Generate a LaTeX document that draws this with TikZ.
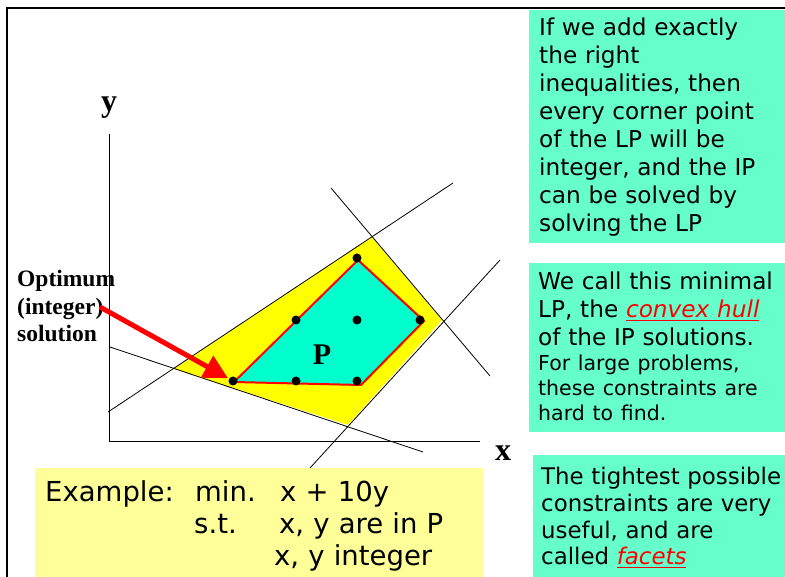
\documentclass[tikz,border=0pt]{standalone}
\usepackage{fontspec}
\setmainfont{Liberation Serif}
\newfontfamily\verd{DejaVu Sans}
\usepackage{xcolor}
\usetikzlibrary{arrows.meta,positioning}
\definecolor{notegreen}{RGB}{102,255,204}
\definecolor{hullcyan}{RGB}{0,255,204}
\definecolor{lpyellow}{RGB}{255,255,0}
\definecolor{examplebg}{RGB}{255,255,153}
\newcommand{\keyterm}[1]{\textcolor{red}{\underline{\textit{#1}}}}

\begin{document}
\begin{tikzpicture}[x=1pt,y=-1pt]
  \tikzset{
    cstr/.style={black,line width=0.8pt},
    lpt/.style={circle,fill=black,inner sep=0pt,minimum size=9pt},
    notetext/.style={anchor=base west,align=left,text width=250pt,inner sep=0pt,
      font=\verd\fontsize{23.2}{28}\selectfont},
    axlbl/.style={font=\bfseries\fontsize{32}{32}\selectfont}
  }
  \useasboundingbox (0,0) rectangle (785,577);
  \fill[white] (0,0) rectangle (785,577);
  % frame
  \draw[line width=2pt] (7,577) -- (7,8) -- (785,8);
  % LP region and its hull
  \fill[lpyellow] (372,237) -- (442,320) -- (348,425) -- (174,369) -- cycle;
  \filldraw[fill=hullcyan,draw=red,line width=2pt,line join=round]
    (358,260) -- (424,321) -- (361,385) -- (234,382) -- cycle;
  % constraints
  \draw[cstr] (108,412) -- (453,183);
  \draw[cstr] (331,188) -- (490,376);
  \draw[cstr] (500,260) -- (310,468);
  \draw[cstr] (110,347) -- (423,452);
  % axes
  \draw[cstr] (109,134) -- (109,441) -- (480,441);
  \node[axlbl] (ylab) at (109,108) {y};
  \node[axlbl] (xlab) at (503,453) {x};
  \node[font=\bfseries\fontsize{30}{30}\selectfont] (P) at (322,355) {P};
  % integer points
  \foreach \px/\py/\nm in {357/258/top,296/320/ml,357/320/mm,420/320/mr,233/381/opt,296/381/bm,357/381/br}{
    \node[lpt] (d-\nm) at (\px,\py) {};
  }
  % optimum label
  \node[anchor=west,align=left,font=\bfseries\fontsize{23.5}{27.5}\selectfont,inner sep=0pt] (optlbl) at (17,306)
    {Optimum\\(integer)\\solution};
  \coordinate (optTail) at (100,307);
  \draw[red,line width=5pt,-{Triangle[length=24pt,width=24pt]},shorten >=1pt] (optTail) -- (d-opt);
  % notes
  \fill[notegreen] (529,10) rectangle (785,243);
  \fill[notegreen] (529,263) rectangle (785,432);
  \fill[notegreen] (533,455) rectangle (785,577);
  \fill[examplebg] (35,468) rectangle (483,577);
  \node[notetext] (note1) at (539,36)
    {If we add exactly\\the right\\inequalities, then\\every corner point\\of the LP will be\\integer, and the IP\\can be solved by\\solving the LP};
  \node[notetext] (note2) at (538,290)
    {We call this minimal\\LP, the \keyterm{convex hull}\\of the IP solutions.\par
     {\fontsize{20.5}{25}\selectfont For large problems,\\these constraints are\\hard to find.\par}};
  \node[notetext,font=\verd\fontsize{22.9}{27}\selectfont] (note3) at (541,484)
    {The tightest possible\\constraints are very\\useful, and are\\called \keyterm{facets}};
  \node[anchor=base west,text width=430pt,inner sep=0pt,align=left,
    font=\verd\fontsize{27.5}{32}\selectfont] (example) at (45,501)
    {\makebox[150pt][l]{Example:}\makebox[85pt][l]{min.}x + 10y\\
     \makebox[149pt]{}\makebox[85pt][l]{s.t.}x, y are in P\\
     \makebox[229pt]{}x, y integer};
\end{tikzpicture}
\end{document}
